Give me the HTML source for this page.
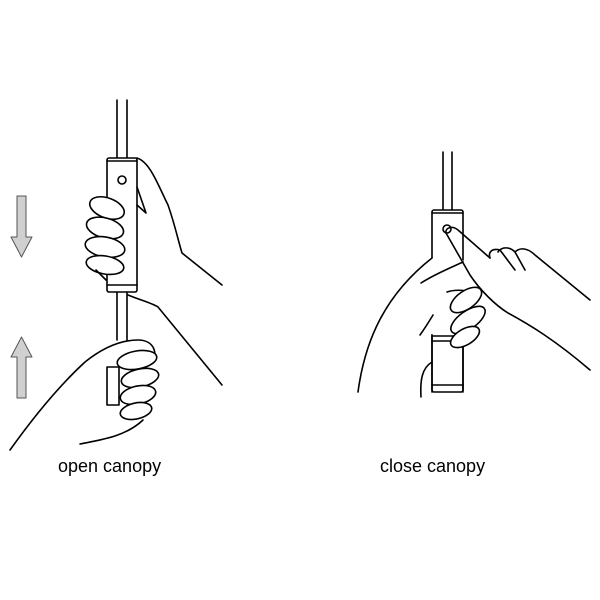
<!DOCTYPE html>
<html><head><style>html,body{margin:0;padding:0;background:#fff}svg{display:block}</style></head>
<body>
<svg width="600" height="600" viewBox="0 0 600 600" xmlns="http://www.w3.org/2000/svg" fill="none" stroke="#000" stroke-width="1.6" stroke-linejoin="round" stroke-linecap="round">
<rect width="600" height="600" fill="#fff" stroke="none"/>
<path d="M17,196 H26 V237 H32 L21.5,257 L11,237 H17 Z" fill="#d0d0d0" stroke="#555" stroke-width="1"/>
<path d="M17,398 H26 V357 H32 L21.5,337 L11,357 H17 Z" fill="#d0d0d0" stroke="#555" stroke-width="1"/>
<path d="M117,100 V158 M127,100 V158"/>
<rect x="107" y="158" width="30" height="134" rx="2" fill="#fff"/>
<path d="M107,161 H137 M107,285 H137"/>
<circle cx="122" cy="180" r="4"/>
<path d="M117,292 V340 M127,292 V340"/>
<path d="M137,158 C150,162 158,185 168,205 C175,225 178,240 182,253 L222,285"/>
<path d="M137,187 L146,213 L137,205"/>
<path d="M128,295 C140,300 152,303 158,307 L222,385"/>
<ellipse cx="107" cy="208" rx="18" ry="10" transform="rotate(20 107 208)" fill="#fff"/>
<ellipse cx="105" cy="228" rx="19" ry="10" transform="rotate(15 105 228)" fill="#fff"/>
<ellipse cx="105" cy="247" rx="20" ry="10" transform="rotate(10 105 247)" fill="#fff"/>
<ellipse cx="105" cy="265" rx="19" ry="9" transform="rotate(10 105 265)" fill="#fff"/>
<path d="M96,270 L106,280"/>
<rect x="107" y="367" width="12" height="38" fill="#fff"/>
<path d="M10,450 C35,415 60,385 85,362 C100,350 118,340 138,340 C155,340 158,355 152,362"/>
<ellipse cx="137" cy="360" rx="20" ry="9" transform="rotate(-10 137 360)" fill="#fff"/>
<ellipse cx="140" cy="378" rx="19" ry="9" transform="rotate(-12 140 378)" fill="#fff"/>
<ellipse cx="138" cy="395" rx="18" ry="9" transform="rotate(-12 138 395)" fill="#fff"/>
<ellipse cx="136" cy="411" rx="16" ry="8" transform="rotate(-12 136 411)" fill="#fff"/>
<path d="M80,444 C100,440 125,437 143,420"/>
<!-- right figure -->
<path d="M443,152 V210 M452,152 V210"/>
<rect x="432" y="210" width="31" height="182" rx="2" fill="#fff"/>
<path d="M432,213 H463 M432,385 H463"/>
<circle cx="447" cy="229" r="4"/>
<path d="M358,392 C365,340 385,295 432,258 L463,260 L478,285 L490,330 L470,340 L431,334 L420,340 L420,283 Z" fill="#fff" stroke="none"/>
<path d="M358,392 C365,340 385,295 432,258"/>
<path d="M421,283 C435,274 450,268 463,262"/>
<path d="M421,397 C420,380 422,368 432,362"/>
<path d="M420,335 C425,328 430,320 433,315"/>
<path d="M447,292 C456,289 468,290 477,294"/>
<path d="M432,336 H463 M432,341 H463 M463,336 V392"/>
<ellipse cx="466" cy="300" rx="18" ry="9" transform="rotate(-35 466 300)" fill="#fff"/>
<ellipse cx="468" cy="320" rx="20" ry="9" transform="rotate(-35 468 320)" fill="#fff"/>
<ellipse cx="465" cy="337" rx="16" ry="8" transform="rotate(-30 465 337)" fill="#fff"/>
<path d="M432,336 V392"/>
<path d="M446,233 C445,228 452,225 458,230 L490,258 M446,233 L470,275 C480,290 495,305 508,313 C530,325 555,340 590,370"/>
<path d="M490,258 C488,252 492,248 500,250 L515,270 M498,252 C502,246 510,247 515,252 L525,270 M515,252 C520,247 528,248 535,255 L590,300"/>
</svg>
<div style="position:absolute;left:0;top:0;width:600px;height:600px;font-family:'Liberation Sans',sans-serif;font-size:18px;">
<div style="position:absolute;left:58px;top:456px;">open canopy</div>
<div style="position:absolute;left:380px;top:456px;">close canopy</div>
</div>
</body></html>
